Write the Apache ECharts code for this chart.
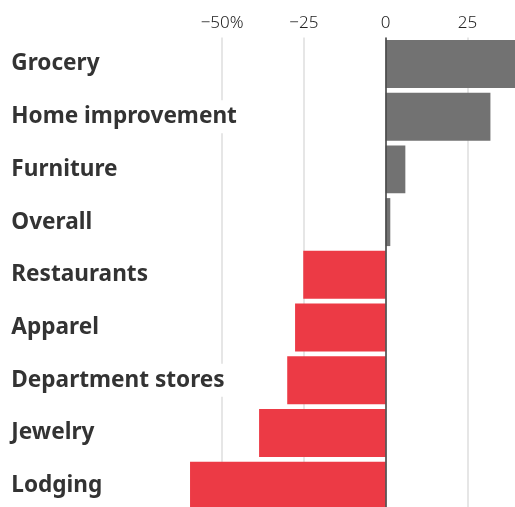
<!DOCTYPE html>
<html>
<head>
<meta charset="utf-8">
<script src="https://cdn.jsdelivr.net/npm/echarts@6/dist/echarts.min.js"></script>
<style>
  html, body { margin: 0; padding: 0; background: #fff; overflow: hidden; }
  #chart { width: 515px; height: 507px; }
</style>
</head>
<body>
<div id="chart"></div>
<script>
// Year-over-year change in spending by category, percent
const categories = ['Grocery', 'Home improvement', 'Furniture', 'Overall', 'Restaurants', 'Apparel', 'Department stores', 'Jewelry', 'Lodging'];
const changes = [40, 32, 6, 1.4, -25.2, -27.7, -30.1, -38.7, -59.8];
const tickLabels = { '-50': '\u221250%', '-25': '\u221225', '0': '0', '25': '25' };

const GRAY = '#727272';
const RED = '#ec3a45';

const chart = echarts.init(document.getElementById('chart'), null, { renderer: 'canvas' });

chart.setOption({
  animation: false,
  backgroundColor: '#fff',
  grid: {
    left: 140.3, right: -1.6, top: 37.6, bottom: -5,
    containLabel: false,
    outerBoundsMode: 'none'
  },
  xAxis: {
    type: 'value',
    position: 'top',
    min: -75,
    max: 40,
    interval: 25,
    axisLine: { show: false },
    axisTick: { show: false },
    axisLabel: {
      showMinLabel: false,
      margin: 6,
      fontFamily: '"Noto Sans", sans-serif',
      fontWeight: 300,
      fontSize: 17,
      color: '#222',
      formatter: v => tickLabels[String(v)] ?? ''
    },
    splitLine: {
      show: true,
      showMinLine: false,
      showMaxLine: false,
      lineStyle: { color: '#dedede', width: 1.5 }
    }
  },
  yAxis: {
    type: 'category',
    inverse: true,
    data: categories,
    z: 3,
    axisLine: { show: false },
    axisTick: { show: false },
    axisLabel: {
      align: 'left',
      margin: 129,
      fontFamily: '"Noto Sans", sans-serif',
      fontWeight: 'bold',
      fontSize: 22.6,
      color: '#333',
      backgroundColor: '#fff',
      padding: [5, 2, 5, 0]
    }
  },
  series: [{
    type: 'bar',
    data: changes.map(v => ({ value: v, itemStyle: { color: v >= 0 ? GRAY : RED } })),
    barCategoryGap: '9%',
    markLine: {
      silent: true,
      symbol: 'none',
      label: { show: false },
      lineStyle: { color: '#4a4a4a', width: 1.6, type: 'solid' },
      data: [{ xAxis: 0 }]
    }
  }]
});
</script>
</body>
</html>
